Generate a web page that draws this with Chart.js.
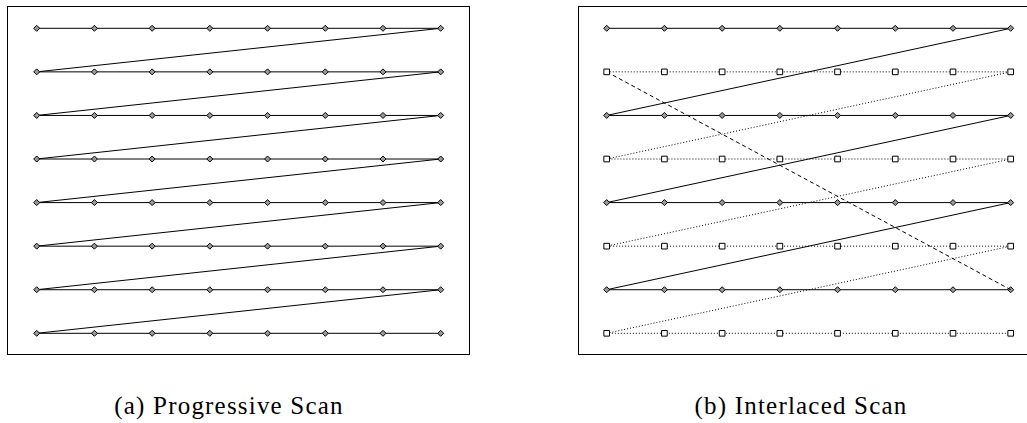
<!DOCTYPE html>
<html><head><meta charset="utf-8">
<script src="https://cdn.jsdelivr.net/npm/chart.js@4"></script>
<style>
html,body{margin:0;padding:0;background:#fff;width:1027px;height:423px;overflow:hidden;position:relative;}
.box{position:absolute;}
.cap{position:absolute;font-family:"Liberation Serif",serif;font-size:25px;line-height:25px;letter-spacing:1.2px;color:#000;white-space:nowrap;transform:translateX(-50%);}
</style></head><body>
<div class="box" style="left:7px;top:6px;width:463px;height:349px;"><canvas id="c1"></canvas></div>
<div class="box" style="left:578px;top:6px;width:463px;height:349px;"><canvas id="c2"></canvas></div>
<div class="cap" style="left:229px;top:393px;">(a) Progressive Scan</div>
<div class="cap" style="left:801px;top:393px;">(b) Interlaced Scan</div>
<script>
// Scan grid: pixel columns and scan lines
const columns = [0, 1, 2, 3, 4, 5, 6, 7];
const scanLines = [0, 1, 2, 3, 4, 5, 6, 7];
// Interlaced fields
const fieldOne = [0, 2, 4, 6];
const fieldTwo = [1, 3, 5, 7];

function trace(lines) {
  const pts = [];
  lines.forEach(r => columns.forEach(c => pts.push({x: c, y: r})));
  return pts;
}
const progressivePts = trace(scanLines);
const fieldOnePts = trace(fieldOne);
const fieldTwoPts = trace(fieldTwo);
const retracePts = [
  {x: columns[columns.length - 1], y: fieldOne[fieldOne.length - 1]},
  {x: columns[0], y: fieldTwo[0]}
];

const framePlugin = {
  id: 'frame',
  afterDraw(chart) {
    const ctx = chart.ctx, a = chart.chartArea;
    ctx.save();
    ctx.strokeStyle = '#000';
    ctx.lineWidth = 1;
    ctx.strokeRect(a.left + 0.5, a.top + 0.5, a.right - a.left - 1, a.bottom - a.top - 1);
    ctx.restore();
  }
};

function makeChart(id, datasets, xr, yr) {
  new Chart(document.getElementById(id), {
    type: 'scatter',
    data: {datasets},
    options: {
      responsive: true, maintainAspectRatio: false, animation: false,
      layout: {padding: 0, autoPadding: false},
      plugins: {legend: {display: false}, tooltip: {enabled: false}},
      scales: {
        x: {type: 'linear', display: false, min: xr[0], max: xr[1]},
        y: {type: 'linear', display: false, reverse: true, min: yr[0], max: yr[1]}
      }
    },
    plugins: [framePlugin]
  });
}

const diamond = {pointStyle: 'rectRot', pointRadius: 3, pointBorderWidth: 1,
  pointBorderColor: '#000', pointBackgroundColor: '#999', clip: false};
const square = {pointStyle: 'rect', pointRadius: 4, pointBorderWidth: 1,
  pointBorderColor: '#000', pointBackgroundColor: '#fff', clip: false};

makeChart('c1', [
  Object.assign({data: progressivePts, showLine: true, borderColor: '#000', borderWidth: 1}, diamond)
], [-0.5146, 7.5077], [-0.5118, 7.498]);

makeChart('c2', [
  Object.assign({data: fieldTwoPts, showLine: true, borderColor: '#000', borderWidth: 1, borderDash: [1, 2]}, square),
  {data: retracePts, showLine: true, borderColor: '#000', borderWidth: 1, borderDash: [4, 3], pointRadius: 0, clip: false},
  Object.assign({data: fieldOnePts, showLine: true, borderColor: '#000', borderWidth: 1}, diamond)
], [-0.4973, 7.525], [-0.5118, 7.498]);
</script>
</body></html>
